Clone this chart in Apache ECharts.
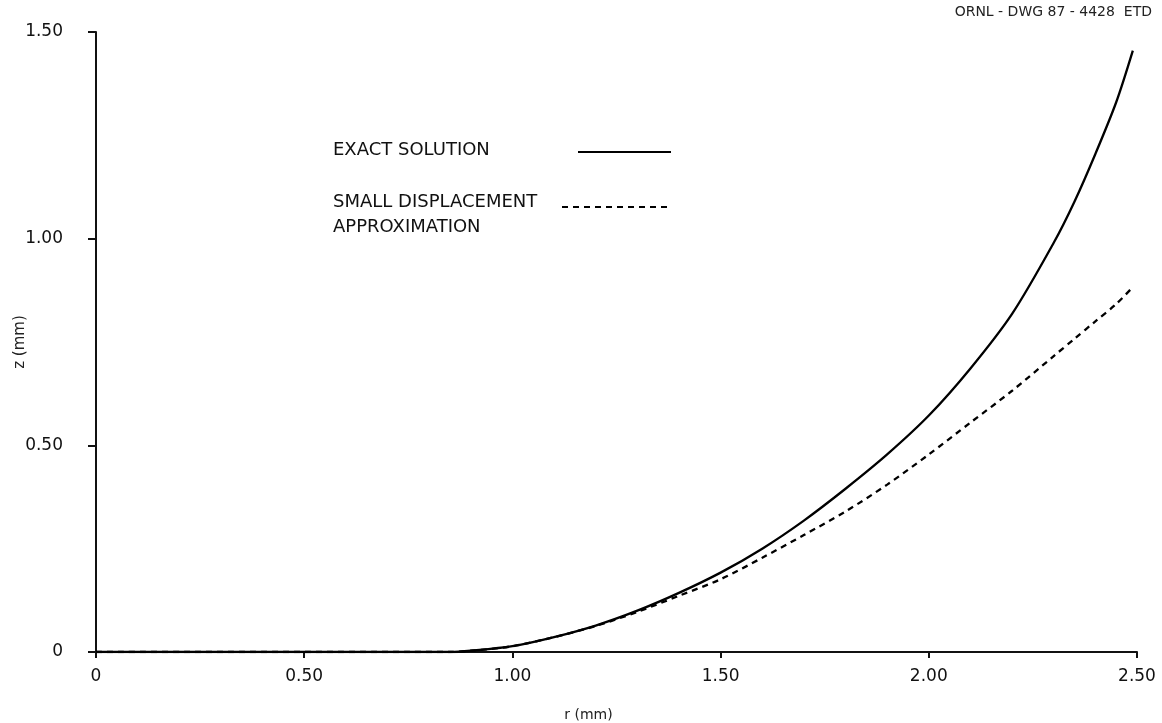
<!DOCTYPE html>
<html>
<head>
<meta charset="utf-8">
<title>Exact vs small displacement solution</title>
<script src="https://cdn.jsdelivr.net/npm/echarts@6/dist/echarts.min.js"></script>
<style>
  html, body { margin: 0; padding: 0; background: #fff; }
  #chart { width: 1162px; height: 723px; }
</style>
</head>
<body>
<div id="chart"></div>
<script>
// radial position r (mm)
const rValues = [0, 0.25, 0.5, 0.75, 0.85, 0.9, 1.0, 1.1, 1.2, 1.3, 1.4, 1.5, 1.6, 1.7, 1.8, 1.9, 2.0, 2.1, 2.2, 2.3, 2.35, 2.4, 2.45, 2.49];
// exact solution z (mm)
const exactZ = [0, 0, 0, 0, 0, 0.003, 0.014, 0.036, 0.064, 0.100, 0.143, 0.192, 0.250, 0.318, 0.395, 0.478, 0.572, 0.686, 0.818, 0.990, 1.090, 1.205, 1.330, 1.455];
// small displacement approximation z (mm)
const approxZ = [0, 0, 0, 0, 0, 0.003, 0.014, 0.036, 0.063, 0.097, 0.136, 0.176, 0.228, 0.283, 0.340, 0.405, 0.478, 0.555, 0.632, 0.716, 0.758, 0.800, 0.842, 0.883];

const xTicks = ['0', '0.50', '1.00', '1.50', '2.00', '2.50'];
const yTicks = ['0', '0.50', '1.00', '1.50'];

const exactData = rValues.map((r, i) => [r, exactZ[i]]);
const approxData = rValues.map((r, i) => [r, approxZ[i]]);

const FONT = '"DejaVu Sans", "Liberation Sans", sans-serif';
const chart = echarts.init(document.getElementById('chart'), null, { renderer: 'canvas' });

chart.setOption({
  animation: false,
  backgroundColor: '#ffffff',
  grid: { left: 96, right: 25, top: 32, bottom: 71, containLabel: false, outerBoundsMode: 'none' },
  xAxis: {
    type: 'value', min: 0, max: 2.5, interval: 0.5,
    name: 'r (mm)', nameLocation: 'middle', nameGap: 56, nameMoveOverlap: false,
    nameTextStyle: { color: '#222', fontSize: 14, fontFamily: FONT, padding: [0, 56, 0, 0] },
    axisLine: { lineStyle: { color: '#111', width: 2 } },
    axisTick: { show: true, inside: false, length: 6, lineStyle: { color: '#111', width: 2 } },
    axisLabel: {
      color: '#111', fontSize: 17, fontFamily: FONT, margin: 16,
      formatter: v => xTicks[Math.round(v / 0.5)]
    },
    splitLine: { show: false }
  },
  yAxis: {
    type: 'value', min: 0, max: 1.5, interval: 0.5,
    name: 'z (mm)', nameLocation: 'middle', nameGap: 68, nameRotate: 90, nameMoveOverlap: false,
    nameTextStyle: { color: '#222', fontSize: 15, fontFamily: FONT },
    axisLine: { show: true, lineStyle: { color: '#111', width: 2 } },
    axisTick: { show: true, inside: false, length: 8, lineStyle: { color: '#111', width: 2 } },
    axisLabel: {
      color: '#111', fontSize: 17, fontFamily: FONT, margin: 33,
      formatter: v => yTicks[Math.round(v / 0.5)]
    },
    splitLine: { show: false }
  },
  series: [
    {
      name: 'EXACT SOLUTION', type: 'line', data: exactData, smooth: 0.3,
      showSymbol: false, lineStyle: { color: '#000', width: 2.3 }
    },
    {
      name: 'SMALL DISPLACEMENT APPROXIMATION', type: 'line', data: approxData, smooth: 0.3,
      showSymbol: false, lineStyle: { color: '#000', width: 2.3, type: [6, 5] }
    }
  ],
  graphic: [
    {
      type: 'text', right: 10, top: 5,
      style: { text: 'ORNL - DWG 87 - 4428  ETD', fill: '#222', font: '14px ' + FONT }
    },
    {
      type: 'text', left: 333, top: 141,
      style: { text: 'EXACT SOLUTION', fill: '#111', font: '18px ' + FONT }
    },
    {
      type: 'line', shape: { x1: 578, y1: 152, x2: 671, y2: 152 },
      style: { stroke: '#000', lineWidth: 2 }
    },
    {
      type: 'text', left: 333, top: 190,
      style: { text: 'SMALL DISPLACEMENT\nAPPROXIMATION', fill: '#111', font: '18px ' + FONT, lineHeight: 25 }
    },
    {
      type: 'line', shape: { x1: 562, y1: 207, x2: 671, y2: 207 },
      style: { stroke: '#000', lineWidth: 2, lineDash: [6, 5] }
    }
  ]
});
</script>
</body>
</html>
